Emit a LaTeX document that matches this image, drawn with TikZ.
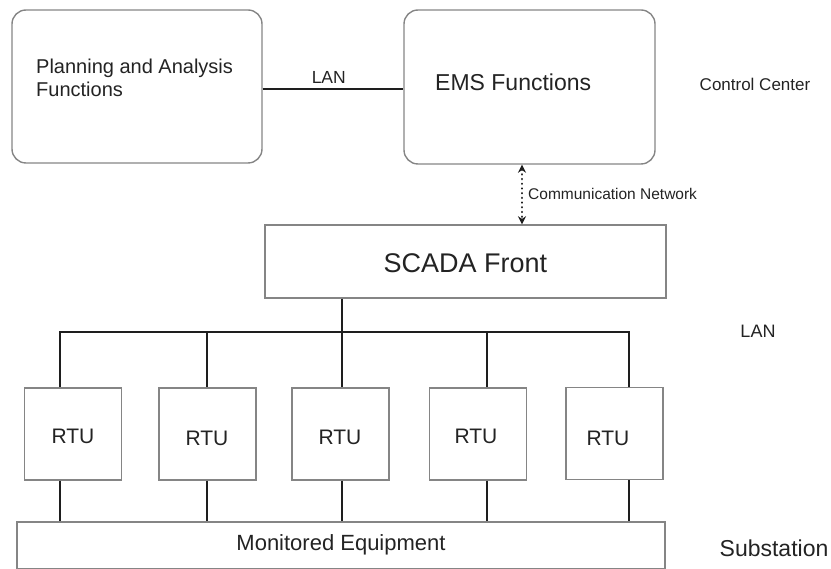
\documentclass[tikz,border=0pt]{standalone}
\usepackage{fontspec}
\setmainfont{Liberation Sans}
\usetikzlibrary{arrows.meta}
\definecolor{boxgray}{HTML}{858585}
\definecolor{txt}{HTML}{232323}
\definecolor{wire}{HTML}{1E1E1E}
\begin{document}
\begin{tikzpicture}[x=1pt,y=-1pt,
  every node/.style={text=txt},
  rbox/.style={draw=boxgray,line width=1.4pt,rounded corners=14pt,inner sep=0pt},
  sbox/.style={draw=boxgray,line width=1.4pt,inner sep=0pt},
  wireline/.style={draw=wire,line width=2.8pt},
  lbl/.style={inner sep=0pt,font=\fontsize{#1}{#1}\selectfont}
]
\useasboundingbox (0,0) rectangle (831,569);
% Control center boxes
\node[rbox,minimum width=250pt,minimum height=153pt] (plan) at (137,86.5) {};
\node[rbox,minimum width=251pt,minimum height=154pt] (ems) at (529.5,87) {};
\node[lbl=20,anchor=west,align=left,font=\fontsize{20}{23}\selectfont] (plantext) at (36,78) {Planning and Analysis\\Functions};
\node[lbl=23,anchor=west] (emstext) at (435,82) {EMS Functions};
\node[lbl=17] (cc) at (755,84) {Control Center};
% LAN between
\draw[wireline] (plan.east |- 0,89) -- (ems.west |- 0,89) node[pos=0.47,above=4pt,lbl=17.5] (lan1) {LAN};
% SCADA
\node[sbox,minimum width=401pt,minimum height=73pt] (scada) at (465.5,261.5) {};
\node[lbl=27] (scadatext) at (465.5,263) {SCADA Front};
\coordinate (cn) at (522,0);
\draw[draw=wire,line width=2.4pt,line cap=round,dash pattern=on 0.1pt off 4.6pt,{Stealth[length=8pt,width=8pt,line cap=butt]}-{Stealth[length=8pt,width=8pt,line cap=butt]}] (ems.south -| cn) -- (scada.north -| cn);
\node[lbl=15.5,anchor=west] (cntext) at (528,194) {Communication Network};
% RTUs
\node[sbox,minimum width=97pt,minimum height=92pt] (r1) at (73,434) {};
\node[sbox,minimum width=97pt,minimum height=92pt] (r2) at (207.5,434) {};
\node[sbox,minimum width=97pt,minimum height=92pt] (r3) at (340.5,434) {};
\node[sbox,minimum width=97pt,minimum height=92pt] (r4) at (478,434) {};
\node[sbox,minimum width=97pt,minimum height=92pt] (r5) at (614.5,433.5) {};
\node[lbl=21] (t1) at (73,436) {RTU};
\node[lbl=21] (t2) at (207,438) {RTU};
\node[lbl=21] (t3) at (340,437) {RTU};
\node[lbl=21] (t4) at (476,436) {RTU};
\node[lbl=21] (t5) at (608,438) {RTU};
% Monitored equipment
\node[sbox,minimum width=648pt,minimum height=47pt] (me) at (341,545.5) {};
\node[lbl=22] (metext) at (341,545) {Monitored Equipment};
% bus coordinates
\coordinate (c1) at (60,332);
\coordinate (c2) at (207,332);
\coordinate (c3) at (342,332);
\coordinate (c4) at (487,332);
\coordinate (c5) at (629,332);
\draw[wireline] (scada.south -| c3) -- (c3);
\draw[wireline] (c1 |- r1.north) -- (c1) -- (c5) -- (c5 |- r5.north);
\foreach \i in {2,3,4} \draw[wireline] (c\i) -- (c\i |- r\i.north);
\foreach \i in {1,...,5} \draw[wireline] (c\i |- r\i.south) -- (c\i |- me.north);
\node[lbl=18] (lan2) at (758,331) {LAN};
\node[lbl=23] (sub) at (774,548) {Substation};
\end{tikzpicture}
\end{document}
